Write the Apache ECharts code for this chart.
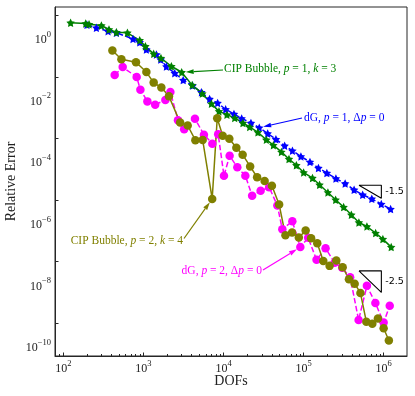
<!DOCTYPE html>
<html>
<head>
<meta charset="utf-8">
<script src="https://cdn.jsdelivr.net/npm/echarts@6/dist/echarts.min.js"></script>
<style>
html, body { margin: 0; padding: 0; background: #fff; }
#chart { width: 415px; height: 396px; }
</style>
</head>
<body>
<div id="chart"></div>
<script>
// dG, p = 1
const blueDofs = [197, 258, 361, 459, 740, 897, 1086, 1449, 1641, 1932, 2455, 3133, 4111, 5284, 6699, 8433,
    10617, 13490, 16827, 21979, 27925, 35563, 45082, 57943, 72444, 92470, 1.20e5, 1.53e5, 1.95e5, 2.53e5,
    3.30e5, 4.27e5, 5.46e5, 7.10e5, 9.33e5, 1.22e6];
const blueErr = [4.89, 3.91, 3.03, 2.69, 1.71, 1.33, 0.769, 0.530, 0.364, 0.216, 0.132, 0.0785, 0.0520, 0.0315,
    0.0192, 0.0142, 0.00881, 0.00625, 0.00447, 0.00318, 0.00224, 0.00145, 9.40e-4, 5.82e-4, 4.01e-4, 2.61e-4,
    1.73e-4, 1.10e-4, 7.55e-5, 5.00e-5, 3.44e-5, 2.16e-5, 1.49e-5, 1.10e-5, 7.41e-6, 5.09e-6];

// CIP Bubble, p = 1, k = 3
const greenDofs = [123, 190, 209, 298, 371, 459, 630, 897, 1057, 1341, 1653, 2230, 2999, 4055, 5433, 7047, 8770,
    11020, 13770, 17460, 21180, 26850, 34200, 41880, 52720, 65610, 81100, 1.0e5, 1.29e5, 1.58e5, 2.01e5,
    2.51e5, 3.16e5, 3.94e5, 4.90e5, 6.17e5, 7.93e5, 9.77e5, 1.24e6];
const greenErr = [5.68, 5.39, 5.11, 4.64, 3.44, 2.81, 2.69, 1.54, 0.985, 0.558, 0.407, 0.221, 0.141, 0.0540,
    0.0286, 0.0135, 0.00759, 0.00593, 0.00463, 0.00318, 0.00236, 0.00158, 9.12e-4, 6.05e-4, 3.66e-4, 2.15e-4,
    1.35e-4, 7.89e-5, 5.19e-5, 3.14e-5, 1.77e-5, 1.02e-5, 5.92e-6, 3.33e-6, 1.87e-6, 1.39e-6, 8.46e-7,
    5.40e-7, 2.97e-7];

// dG, p = 2
const magentaDofs = [437, 550, 822, 915, 1119, 1400, 1876, 2168, 2697, 3221, 4395, 5689, 7244, 8570, 10120,
    11910, 14860, 18710, 22750, 29040, 37070, 46990, 54200, 72280, 90990, 1.14e5, 1.45e5, 1.88e5, 2.44e5,
    3.03e5, 3.81e5, 4.86e5, 6.17e5, 7.87e5, 9.98e5, 1.19e6];
const magentaErr = [0.114, 0.208, 0.0983, 0.0385, 0.0160, 0.0125, 0.0178, 0.0324, 0.00393, 0.00200, 0.00433,
    0.00133, 6.76e-4, 0.00138, 6.17e-5, 2.75e-4, 1.16e-4, 6.17e-5, 1.38e-5, 2.00e-5, 2.61e-5, 6.67e-6,
    1.12e-6, 2.05e-6, 2.97e-7, 5.94e-7, 1.15e-7, 2.71e-7, 9.16e-8, 6.30e-8, 3.14e-8, 1.28e-9, 1.64e-8,
    4.58e-9, 1.06e-9, 3.74e-9];

// CIP Bubble, p = 2, k = 4
const oliveDofs = [409, 530, 806, 1087, 1341, 1672, 2081, 2871, 3565, 4446, 5483, 7211, 8337, 9750, 11810,
    14450, 17310, 21480, 26250, 32580, 40180, 49430, 59290, 71780, 87100, 1.06e5, 1.24e5, 1.48e5, 1.76e5,
    2.11e5, 2.56e5, 3.07e5, 3.68e5, 4.34e5, 5.12e5, 6.07e5, 7.21e5, 8.47e5, 9.98e5, 1.16e6];
const oliveErr = [0.714, 0.375, 0.297, 0.143, 0.0650, 0.0448, 0.0233, 0.00331, 0.00264, 8.79e-4, 8.93e-4,
    1.09e-5, 0.00450, 0.00123, 9.84e-4, 5.01e-4, 2.97e-4, 1.24e-4, 5.51e-5, 4.15e-5, 2.92e-5, 7.19e-6,
    7.18e-7, 8.85e-7, 6.08e-7, 1.02e-6, 5.73e-7, 4.00e-7, 1.06e-7, 7.31e-8, 1.09e-7, 6.64e-8, 2.70e-8,
    1.93e-8, 9.68e-9, 1.13e-9, 9.73e-10, 1.42e-9, 6.90e-10, 2.77e-10];

// reference slope triangles
const slopeRates = [-1.5, -2.5];
const slopeX = [4.91e5, 9.35e5];
const slopeY0 = [3.03e-5, 5.03e-8];

// axis decades
const xDecades = [2, 3, 4, 5, 6];
const yLabelDecades = [-10, -8, -6, -4, -2, 0];
const yTickDecades = [-9, -7, -5, -3, -1, 1];

const serif = 'Liberation Serif';
const star = 'path://M0,-10L2.94,-4.05L9.51,-3.09L4.76,1.55L5.88,8.09L0,5.2L-5.88,8.09L-4.76,1.55L-9.51,-3.09L-2.94,-4.05Z';

const lg = (xs, ys) => xs.map((x, i) => [Math.log10(x), Math.log10(ys[i])]);

// minor ticks 2..9 in each decade
const xMinor = [];
for (let k = 1; k <= 6; k++) {
    for (let m = 2; m <= 9; m++) {
        const v = Math.log10(m * Math.pow(10, k));
        if (v > 1.895 && v < 6.291) xMinor.push(v);
    }
}

const sup = v => '{b|10}{s|' + (v < 0 ? '\u2212' + (-v) : v) + '}';
const tickRich = {
    b: { fontSize: 12, fontFamily: serif, color: '#222', lineHeight: 16, verticalAlign: 'bottom' },
    s: { fontSize: 8.5, fontFamily: serif, color: '#222', lineHeight: 9, verticalAlign: 'top' }
};

function lineSeries(name, data, color, symbol, size, dashed) {
    return {
        name: name,
        type: 'line',
        data: data,
        symbol: symbol,
        symbolSize: size,
        showAllSymbol: true,
        lineStyle: { color: color, width: 1.5, type: dashed ? [5.5, 2.5] : 'solid' },
        itemStyle: { color: color, borderWidth: 0 },
        emphasis: { disabled: true },
        z: 3
    };
}

const triSeries = slopeRates.map((s, i) => {
    const x0 = slopeX[0], x1 = slopeX[1], y0 = slopeY0[i];
    const y1 = y0 * Math.pow(x1 / x0, s);
    return {
        type: 'line',
        data: lg([x0, x1, x1, x0], [y0, y0, y1, y0]),
        symbol: 'none',
        lineStyle: { color: '#000', width: 1.1 },
        emphasis: { disabled: true },
        z: 4
    };
});

const chart = echarts.init(document.getElementById('chart'));
chart.setOption({
    animation: false,
    grid: { left: 55, right: 8, top: 7, bottom: 40, outerBoundsMode: 'none', containLabel: false,
        show: true, borderColor: '#262626', borderWidth: 1 },
    xAxis: [{
        type: 'value', min: 1.895, max: 6.291,
        name: 'DOFs', nameLocation: 'middle', nameGap: 18.5, nameMoveOverlap: false,
        nameTextStyle: { fontFamily: serif, fontSize: 14, color: '#222' },
        axisLine: { show: true, onZero: false, lineStyle: { color: '#262626' } },
        axisTick: { inside: true, length: 3.5, customValues: xDecades, lineStyle: { color: '#262626' } },
        axisLabel: { customValues: xDecades, margin: 3, formatter: sup, rich: tickRich },
        splitLine: { show: false }
    }, {
        type: 'value', min: 1.895, max: 6.291, position: 'bottom',
        axisLine: { show: false, onZero: false },
        axisTick: { inside: true, length: 2, customValues: xMinor, lineStyle: { color: '#262626' } },
        axisLabel: { show: false },
        splitLine: { show: false }
    }],
    yAxis: {
        type: 'value', min: -10.062, max: 1.268,
        name: 'Relative Error', nameLocation: 'middle', nameGap: 37, nameMoveOverlap: false,
        nameTextStyle: { fontFamily: serif, fontSize: 14, color: '#222' },
        axisLine: { show: true, onZero: false, lineStyle: { color: '#262626' } },
        axisTick: { inside: true, length: 3.5, customValues: yTickDecades, lineStyle: { color: '#262626' } },
        axisLabel: { customValues: yLabelDecades, margin: 4, verticalAlign: 'bottom', formatter: sup, rich: tickRich },
        splitLine: { show: false }
    },
    series: [
        lineSeries('dG, p = 1', lg(blueDofs, blueErr), '#0000ff', star, 8.5, true),
        lineSeries('CIP Bubble, p = 1, k = 3', lg(greenDofs, greenErr), '#008000', star, 8.5, false),
        lineSeries('dG, p = 2', lg(magentaDofs, magentaErr), '#ff00ff', 'circle', 8.5, true),
        lineSeries('CIP Bubble, p = 2, k = 4', lg(oliveDofs, oliveErr), '#808000', 'circle', 8.5, false)
    ].concat(triSeries)
});

// annotations: text at fixed spot, arrow ends at a data point
const px = (x, y) => chart.convertToPixel({ seriesIndex: 0 }, [Math.log10(x), Math.log10(y)]);

function arrow(start, target, color, shrink) {
    const dx = target[0] - start[0], dy = target[1] - start[1];
    const len = Math.hypot(dx, dy);
    const ux = dx / len, uy = dy / len;
    const tip = [target[0] - ux * shrink, target[1] - uy * shrink];
    const hl = 8, hw = 2.4;
    const base = [tip[0] - ux * hl, tip[1] - uy * hl];
    return [
        { type: 'line', z: 10, shape: { x1: start[0], y1: start[1], x2: base[0], y2: base[1] },
          style: { stroke: color, lineWidth: 1.2 } },
        { type: 'polygon', z: 10, shape: { points: [tip, [base[0] - uy * hw, base[1] + ux * hw], [base[0] + uy * hw, base[1] - ux * hw]] },
          style: { fill: color } }
    ];
}

function note(text, x, y, color, align) {
    return {
        type: 'text', z: 10, x: x, y: y,
        style: {
            text: text, fill: color, fontFamily: serif, fontSize: 11.5,
            align: align, verticalAlign: 'middle',
            rich: { i: { fontStyle: 'italic', fontFamily: serif, fontSize: 11.5, fill: color } }
        }
    };
}

const graphics = [];
graphics.push(note('CIP Bubble, {i|p} = 1, {i|k} = 3', 224, 69, '#008000', 'left'));
graphics.push(...arrow([223, 70], px(greenDofs[12], greenErr[12]), '#008000', 4));
graphics.push(note('dG, {i|p} = 1, \u0394{i|p} = 0', 304, 118, '#0000ff', 'left'));
graphics.push(...arrow([302, 118], px(blueDofs[20], blueErr[20]), '#0000ff', 4));
graphics.push(note('CIP Bubble, {i|p} = 2, {i|k} = 4', 183, 240.5, '#808000', 'right'));
graphics.push(...arrow([184, 238.5], px(oliveDofs[11], oliveErr[11]), '#808000', 4));
graphics.push(note('dG, {i|p} = 2, \u0394{i|p} = 0', 262, 271, '#ff00ff', 'right'));
graphics.push(...arrow([263, 270], px(magentaDofs[24], magentaErr[24]), '#ff00ff', 4));

slopeRates.forEach((s, i) => {
    const x1 = slopeX[1], y0 = slopeY0[i];
    const y1 = y0 * Math.pow(x1 / slopeX[0], s);
    const a = px(x1, y0), b = px(x1, y1);
    graphics.push({
        type: 'text', z: 10, x: a[0] + 4, y: (a[1] + b[1]) / 2,
        style: { text: String(s), fill: '#000', fontFamily: 'DejaVu Sans', fontSize: 9.5, align: 'left', verticalAlign: 'middle' }
    });
});

chart.setOption({ graphic: graphics });
</script>
</body>
</html>
